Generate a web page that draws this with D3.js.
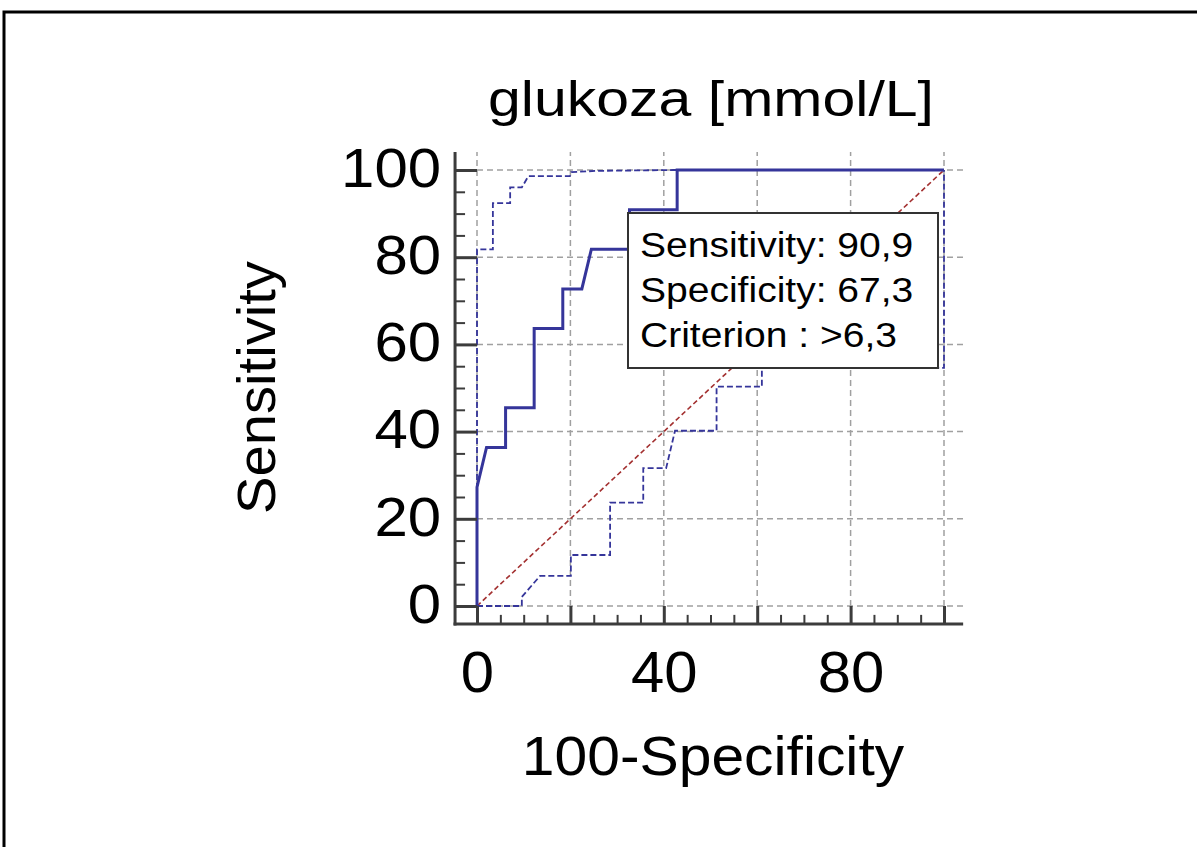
<!DOCTYPE html>
<html>
<head>
<meta charset="utf-8">
<script src="https://cdn.jsdelivr.net/npm/d3@7"></script>
<style>
  html, body { margin: 0; padding: 0; background: #fff; }
  svg { display: block; }
  text { font-family: "Liberation Sans", Arial, sans-serif; fill: #000; }
</style>
</head>
<body>
<svg id="chart" width="1197" height="847"></svg>
<script>
// ---------- data ----------
const titleText = "glukoza [mmol/L]";
const xTitle = "100-Specificity";
const yTitle = "Sensitivity";
const xTickLabels = [0, 40, 80];
const yTickLabels = [0, 20, 40, 60, 80, 100];
const gridValues = [0, 20, 40, 60, 80, 100];
const minorValues = d3.range(0, 101, 5).filter(v => v % 20 !== 0);

// ROC curve (100-Specificity, Sensitivity)
const rocX = [0, 0, 2.04, 6.12, 6.12, 12.24, 12.24, 18.37, 18.37, 22.45, 24.49, 32.65, 32.65, 42.86, 42.86, 100];
const rocY = [0, 27.27, 36.36, 36.36, 45.45, 45.45, 63.64, 63.64, 72.73, 72.73, 81.82, 81.82, 90.91, 90.91, 100, 100];
// upper confidence bound
const upperX = [0, 0, 3.4, 3.4, 7.1, 7.1, 9.6, 11.0, 19.9, 20.2, 25.6, 42.0, 100];
const upperY = [0, 81.8, 81.8, 92.4, 92.4, 96.0, 96.0, 98.6, 98.6, 99.5, 99.8, 100, 100];
// lower confidence bound
const lowerX = [0, 9.6, 9.6, 13.5, 20.1, 20.1, 28.5, 28.5, 35.6, 35.6, 40.5, 42.4, 51.3, 51.3, 61.0, 61.0, 100, 100];
const lowerY = [0, 0, 2.1, 6.9, 6.9, 11.7, 11.7, 23.7, 23.7, 31.6, 31.6, 40.2, 40.2, 50.3, 50.3, 54.6, 54.6, 100];
// reference diagonal
const diagX = [0, 100];
const diagY = [0, 100];

const legendLines = ["Sensitivity: 90,9", "Specificity: 67,3", "Criterion : >6,3"];

// ---------- layout ----------
const svg = d3.select("#chart");
const x = d3.scaleLinear().domain([0, 100]).range([477, 944]);
const y = d3.scaleLinear().domain([0, 100]).range([606, 170]);
const xAxisExt = [-4.7, 104.1];
const yAxisExt = [-4.1, 104.1];
const axisColor = "#3c3c3c";
const blue = "#35359a";

function stretch(sel, k) {
  sel.each(function () {
    const w = this.getComputedTextLength();
    d3.select(this).attr("textLength", w * k).attr("lengthAdjust", "spacingAndGlyphs");
  });
}

// frame
svg.append("path")
  .attr("d", "M4,847 V12 H1197")
  .attr("fill", "none").attr("stroke", "#000").attr("stroke-width", 3);

// grid
const grid = svg.append("g").attr("stroke", "#a0a0a0").attr("stroke-width", 1.5)
  .attr("stroke-dasharray", "6,4").attr("fill", "none");
grid.selectAll("line.v").data(gridValues).join("line").attr("class", "v")
  .attr("x1", d => x(d)).attr("x2", d => x(d))
  .attr("y1", y(0)).attr("y2", y(yAxisExt[1]));
grid.selectAll("line.h").data(gridValues).join("line").attr("class", "h")
  .attr("y1", d => y(d)).attr("y2", d => y(d))
  .attr("x1", x(0)).attr("x2", x(xAxisExt[1]));

const line = d3.line().x(d => x(d[0])).y(d => y(d[1]));
const zip = (a, b) => a.map((v, i) => [v, b[i]]);

// diagonal
svg.append("path").attr("d", line(zip(diagX, diagY)))
  .attr("fill", "none").attr("stroke", "#a33030").attr("stroke-width", 1.6)
  .attr("stroke-dasharray", "5,3");

// confidence bounds
[zip(upperX, upperY), zip(lowerX, lowerY)].forEach(pts => {
  svg.append("path").attr("d", line(pts))
    .attr("fill", "none").attr("stroke", blue).attr("stroke-width", 1.8)
    .attr("stroke-dasharray", "6,3");
});

// ROC curve
svg.append("path").attr("d", line(zip(rocX, rocY)))
  .attr("fill", "none").attr("stroke", blue).attr("stroke-width", 3)
  .attr("stroke-linejoin", "miter");

// legend box
const lg = svg.append("g");
lg.append("rect").attr("x", 628).attr("y", 213).attr("width", 310).attr("height", 155)
  .attr("fill", "#fff").attr("stroke", "#333").attr("stroke-width", 2);
lg.selectAll("text").data(legendLines).join("text")
  .attr("x", 640).attr("y", (d, i) => 257 + i * 45)
  .attr("font-size", 35).text(d => d)
  .call(stretch, 1.115);

// y axis
const yAxisX = x(xAxisExt[0]);
const xAxisY = y(yAxisExt[0]);
const gy = svg.append("g").attr("transform", `translate(${yAxisX},0)`)
  .call(d3.axisLeft(y).tickValues(yTickLabels).tickSizeInner(-(x(0) - yAxisX)).tickSizeOuter(0).tickPadding(14));
gy.select(".domain").remove();
gy.selectAll(".tick line").attr("stroke", axisColor).attr("stroke-width", 3);
gy.selectAll(".tick text").attr("font-size", 56).attr("font-family", null).attr("dy", "0.29em")
  .attr("fill", "#000").call(stretch, 1.07);
const gyMinor = svg.append("g").attr("transform", `translate(${yAxisX},0)`)
  .call(d3.axisRight(y).tickValues(minorValues).tickSize(10).tickFormat(""));
gyMinor.select(".domain").remove();
gyMinor.selectAll(".tick line").attr("stroke", axisColor).attr("stroke-width", 2);
svg.append("line").attr("x1", yAxisX).attr("x2", yAxisX)
  .attr("y1", y(yAxisExt[0]) + 1.5).attr("y2", y(yAxisExt[1]))
  .attr("stroke", axisColor).attr("stroke-width", 3);

// x axis
const gx = svg.append("g").attr("transform", `translate(0,${xAxisY})`)
  .call(d3.axisBottom(x).tickValues(gridValues).tickSizeInner(-(xAxisY - y(0))).tickSizeOuter(0).tickPadding(28)
    .tickFormat(d => xTickLabels.includes(d) ? d : ""));
gx.select(".domain").remove();
gx.selectAll(".tick line").attr("stroke", axisColor).attr("stroke-width", 3);
gx.selectAll(".tick text").attr("font-size", 57).attr("font-family", null)
  .attr("fill", "#000").call(stretch, 1.05);
const gxMinor = svg.append("g").attr("transform", `translate(0,${xAxisY})`)
  .call(d3.axisTop(x).tickValues(minorValues).tickSize(9).tickFormat(""));
gxMinor.select(".domain").remove();
gxMinor.selectAll(".tick line").attr("stroke", axisColor).attr("stroke-width", 2);
svg.append("line").attr("y1", xAxisY).attr("y2", xAxisY)
  .attr("x1", x(xAxisExt[0]) - 1.5).attr("x2", x(xAxisExt[1]))
  .attr("stroke", axisColor).attr("stroke-width", 3);

// titles
svg.append("text").attr("x", 711).attr("y", 116).attr("text-anchor", "middle")
  .attr("font-size", 50).text(titleText).call(stretch, 1.18);
svg.append("text").attr("x", 713).attr("y", 775).attr("text-anchor", "middle")
  .attr("font-size", 56).text(xTitle).call(stretch, 1.05);
svg.append("text").attr("transform", "translate(275,387.5) rotate(-90)").attr("text-anchor", "middle")
  .attr("font-size", 53).text(yTitle).call(stretch, 1.06);
</script>
</body>
</html>
